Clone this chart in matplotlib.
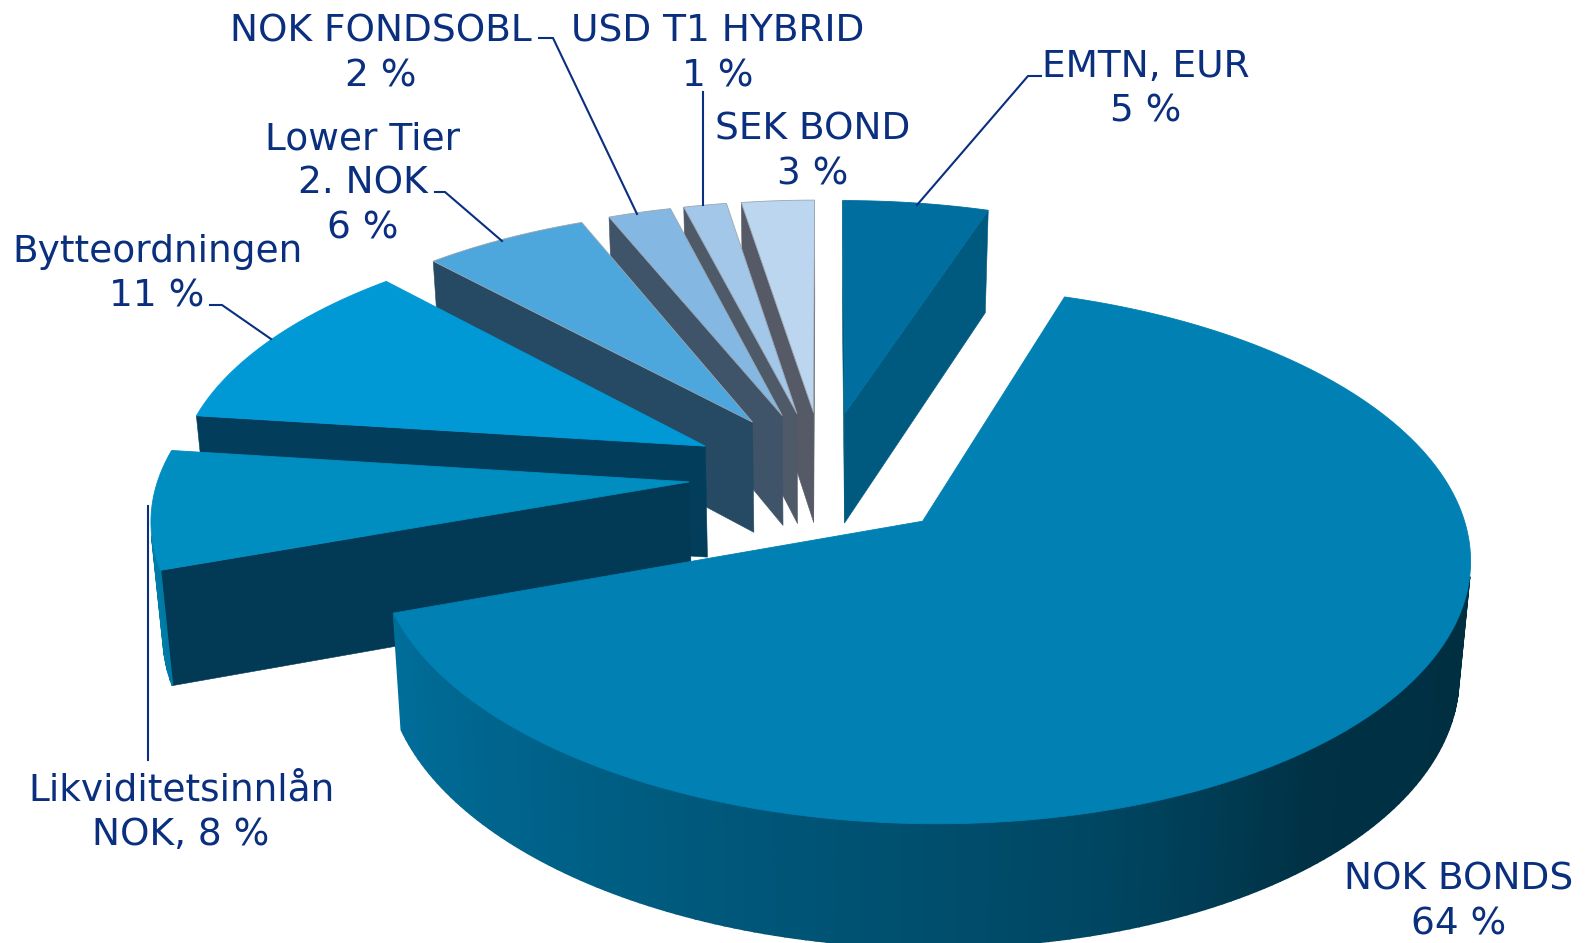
import numpy as np
import matplotlib
matplotlib.use('Agg')
import matplotlib.pyplot as plt
from matplotlib.colors import to_rgb

# clockwise from 12 o'clock, shares
names = ['EMTN, EUR', 'NOK BONDS', 'Likviditetsinnlån', 'Bytteordningen', 'Lower Tier',
         'NOK FONDSOBL', 'USD T1 HYBRID', 'SEK BOND']
shares = [5.1, 64.5, 7.4, 11, 5.75, 2.2, 1.5, 2.55]
labels = ['EMTN, EUR\n5 %', 'NOK BONDS\n64 %', 'Likviditetsinnlån\nNOK, 8 %', 'Bytteordningen\n11 %',
          'Lower Tier\n2. NOK\n6 %', 'NOK FONDSOBL\n2 %', 'USD T1 HYBRID\n1 %', 'SEK BOND\n3 %']
top_colors = ['#006f9f', '#0080b3', '#008dbf', '#0099d6', '#4da6dc', '#84b8e2', '#a3c7e8', '#bcd6ef']
side_colors = ['#005a80', '#023a55', '#023a55', '#023e5c', '#264a63', '#3f5468', '#4e5a68', '#555a66']
label_pos = [(1146, 89), (1459, 902), (181, 813), (157, 274), (363, 184), (381, 54), (718, 54), (813, 152)]
leaders = [[(1041, 76), (1028, 76), (917, 205)],
           None,
           [(148, 760), (148, 506)],
           [(210, 305), (222, 305), (271, 339)],
           [(435, 192), (445, 192), (502, 241)],
           [(539, 38), (553, 38), (637, 214)],
           [(703, 92), (703, 205)],
           None]
TEXT = '#0a2f7f'

CX, CY = 824, 475
SX, SY = 530, 253
PERSP = 0.123
THICK = 112
EXPLODE = 0.255


def project(x, y, z=0.0):
    s = 1 / (1 + PERSP * np.asarray(y))
    return CX + SX * np.asarray(x) * s * (1 - 0.018 * z), CY - SY * np.asarray(y) * s + THICK * z * s ** 0.645


def rim(th, off):
    return off[0] + np.sin(th), off[1] + np.cos(th)


def face(ax, xs, ys, color, z, lw=0.4):
    # keep only faces turned to the viewer (screen y runs down)
    area = 0.5 * np.sum(xs * np.roll(ys, -1) - np.roll(xs, -1) * ys)
    if area < 0:
        ax.fill(xs, ys, color=color, lw=lw, zorder=z)


def wall_shade(th):
    # dark on the right, bright on the left
    d = np.degrees(th) % 360
    return np.interp(d, [0, 90, 140, 165, 225, 270, 360], [0.72, 0.36, 0.38, 0.55, 0.78, 0.92, 0.9])


def draw_slice(ax, start, sweep, top, side, z):
    mid = start + sweep / 2
    off = (EXPLODE * np.sin(mid), EXPLODE * np.cos(mid))
    th = np.linspace(start, start + sweep, max(int(np.degrees(sweep)), 6))
    rx, ry = rim(th, off)
    # radial walls
    for a, sign in ((th[0], 1), (th[-1], -1)):
        px, py = rim(a, off)
        xs = [off[0], px, px, off[0]]
        ys = [off[1], py, py, off[1]]
        zs = [0, 0, 1, 1]
        u, v = zip(*[project(p, q, w) for p, q, w in zip(xs, ys, zs)])
        u, v = np.array(u), np.array(v)
        if sign < 0:
            u, v = u[::-1], v[::-1]
        face(ax, u, v, side, z)
    # outer wall in narrow strips for the shading
    for i in range(len(th) - 1):
        x0, x1 = rx[i], rx[i + 1]
        y0, y1 = ry[i], ry[i + 1]
        u = np.array([project(x1, y1)[0], project(x1, y1, 1)[0], project(x0, y0, 1)[0], project(x0, y0)[0]])
        v = np.array([project(x1, y1)[1], project(x1, y1, 1)[1], project(x0, y0, 1)[1], project(x0, y0)[1]])
        c = np.array(to_rgb(top)) * wall_shade((th[i] + th[i + 1]) / 2)
        face(ax, u, v, tuple(c), z + 0.1, lw=1.2)
    # top
    u, v = project(np.r_[off[0], rx], np.r_[off[1], ry])
    edge = '#9aa6b2' if top in top_colors[4:] else top
    ax.fill(u, v, facecolor=top, edgecolor=edge, lw=0.6, zorder=z + 0.2)


fig = plt.figure(figsize=(15.85, 9.43), dpi=100)
ax = fig.add_axes([0, 0, 1, 1])
ax.set_xlim(0, 1585)
ax.set_ylim(943, 0)
ax.axis('off')

fracs = np.array(shares) / sum(shares)
starts = np.r_[0, np.cumsum(fracs)[:-1]] * 2 * np.pi
# back slices first, big front slice last
order = [0, 7, 6, 5, 4, 3, 2, 1]
for n, i in enumerate(order):
    draw_slice(ax, starts[i], fracs[i] * 2 * np.pi, top_colors[i], side_colors[i], n + 1)

for lab, pos, lead in zip(labels, label_pos, leaders):
    ax.text(pos[0], pos[1], lab, ha='center', va='center', ma='center', fontsize=27,
            color=TEXT, linespacing=1.31, zorder=20)
    if lead is not None:
        ax.plot(*zip(*lead), color=TEXT, lw=1.5, zorder=19)

fig.savefig('out.png', dpi=100, facecolor='white')
